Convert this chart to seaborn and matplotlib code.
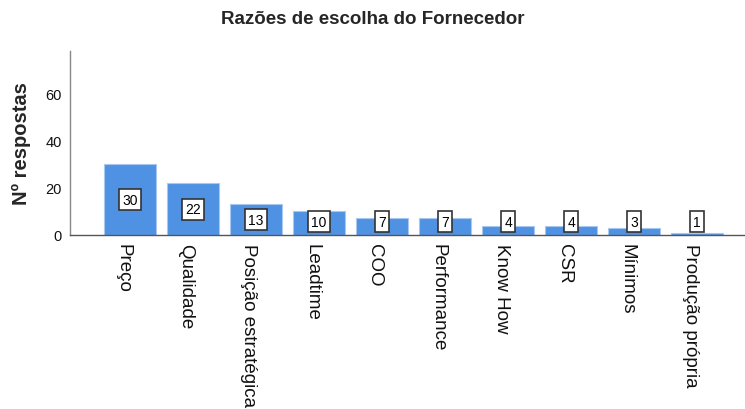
import numpy as np
import pandas as pd
import matplotlib
matplotlib.use("Agg")
import matplotlib.pyplot as plt
import matplotlib.transforms as mtransforms
import seaborn as sns

categorias = ["Preço", "Qualidade", "Posição estratégica", "Leadtime", "COO",
              "Performance", "Know How", "CSR", "Mínimos", "Produção própria"]
respostas = [30, 22, 13, 10, 7, 7, 4, 4, 3, 1]
y_ticks = [0, 20, 40, 60]

df = pd.DataFrame({"razao": categorias, "n": respostas})

sns.set_style("white")
plt.rcParams["font.family"] = ["Liberation Sans", "DejaVu Sans"]

fig = plt.figure(figsize=(7.45, 4.1), dpi=100)
ax = fig.add_axes([70 / 745, 1 - 236 / 410, 675 / 745, 184 / 410])

sns.barplot(data=df, x="razao", y="n", color="#4f92e3", saturation=1,
            width=0.83, edgecolor="#a9c8f0", linewidth=0.8, ax=ax)

# value labels in small boxes
for i, v in enumerate(respostas):
    ax.text(i, max(v / 2, 5.6), str(v), ha="center", va="center", fontsize=10,
            color="black",
            bbox=dict(boxstyle="square,pad=0.25", fc="white", ec="#333333", lw=1.2))

ax.set_xlim(-0.95, 9.76)
ax.set_ylim(0, 78)
ax.set_yticks(y_ticks)
ax.set_yticklabels([str(t) for t in y_ticks], fontsize=10.5, color="#111111")
ax.tick_params(axis="y", length=0, pad=6)
ax.tick_params(axis="x", length=0, pad=6)
ax.set_xticks(range(len(categorias)))
ax.set_xticklabels(categorias, rotation=-90, ha="center", va="top", fontsize=13.5,
                   color="#111111")
# labels sit a little left of the bar centre, as in the original
shift = mtransforms.ScaledTranslation(-0.07, 0, fig.dpi_scale_trans)
for lbl in ax.get_xticklabels():
    lbl.set_transform(lbl.get_transform() + shift)
ax.set_xlabel("")
ax.set_ylabel("Nº respostas", fontsize=14.5, fontweight="bold", labelpad=10)

for s in ["top", "right"]:
    ax.spines[s].set_visible(False)
ax.spines["left"].set_color("#888888")
ax.spines["bottom"].set_color("#555555")
ax.spines["left"].set_linewidth(1)
ax.spines["bottom"].set_linewidth(1)

fig.text(0.5, 1 - 20 / 410, "Razões de escolha do Fornecedor", ha="center",
         va="center", fontsize=13.5, fontweight="bold")

fig.savefig("out.png", dpi=100)
